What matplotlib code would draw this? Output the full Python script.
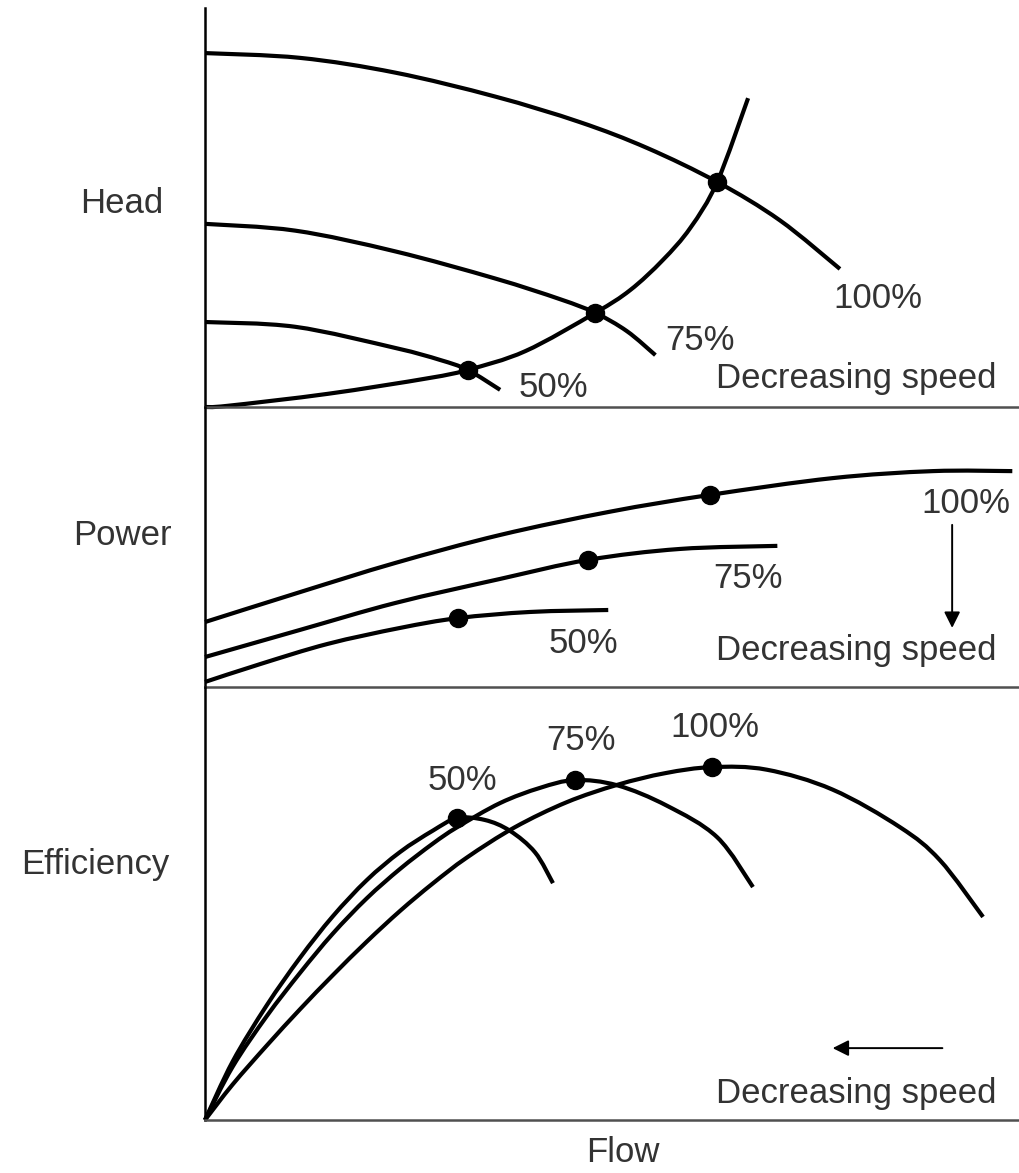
import numpy as np
import matplotlib
matplotlib.use("Agg")
import matplotlib.pyplot as plt
from matplotlib.path import Path
from matplotlib.patches import PathPatch

plt.rcParams['font.family'] = ['Liberation Sans', 'DejaVu Sans']

# --- Head vs flow (flow and head in % of axis) ---
head100_q = [0, 11.7, 23.4, 35.7, 46.1, 54.4, 63.0, 70.7, 78.1]
head100_h = [88.7, 87.5, 83.8, 77.8, 71.4, 64.9, 56.4, 46.8, 34.6]
head75_q = [0, 11.1, 23.4, 35.7, 43.7, 48.0, 51.9, 55.4]
head75_h = [45.9, 44.2, 39.0, 32.2, 27.0, 23.6, 19.0, 13.0]
head50_q = [0, 11.1, 23.4, 28.9, 32.3, 36.3]
head50_h = [21.3, 20.1, 14.8, 11.8, 9.3, 4.3]
system_q = [0, 2.8, 15.1, 27.4, 32.3, 39.4, 48.0, 52.3, 56.3, 59.7, 63.0, 66.8]
system_h = [0, 0.3, 3.3, 7.2, 9.3, 14.0, 23.6, 29.3, 36.8, 44.9, 56.4, 77.4]
head_op_q = [63.0, 48.0, 32.3]
head_op_h = [56.4, 23.6, 9.3]

# --- Power vs flow ---
pow100_q = [0, 11.7, 23.4, 36.3, 49.8, 62.1, 77.2, 89.5, 99.3]
pow100_p = [23.2, 33.9, 44.3, 54.3, 62.6, 68.6, 74.6, 77.1, 77.1]
pow75_q = [0, 11.7, 23.4, 36.3, 47.1, 58.4, 70.4]
pow75_p = [10.7, 20.4, 30.0, 38.6, 45.4, 49.3, 50.4]
pow50_q = [0, 6.8, 15.1, 24.0, 31.1, 40.0, 49.6]
pow50_p = [1.8, 8.2, 15.4, 21.1, 24.6, 26.8, 27.5]
pow_op_q = [62.1, 47.1, 31.1]
pow_op_p = [68.6, 45.4, 24.6]

# --- Efficiency vs flow ---
eff50_q = [0, 3.4, 7.6, 11.7, 15.7, 19.9, 24.0, 28.0, 31.0, 34.4, 37.5, 40.6, 42.8]
eff50_e = [0, 13.5, 26.5, 37.5, 47.0, 55.4, 61.9, 66.8, 69.7, 69.3, 66.8, 61.8, 54.7]
eff75_q = [0, 3.4, 7.6, 11.7, 15.7, 19.9, 24.0, 28.0, 31.0, 36.3, 41.2, 45.5, 50.7,
           56.8, 63.0, 67.4]
eff75_e = [0, 12.3, 24.0, 34.0, 43.0, 51.2, 58.0, 63.8, 67.6, 73.2, 76.7, 78.5, 77.3,
           72.6, 65.3, 53.8]
eff100_q = [0, 3.4, 7.6, 11.7, 15.7, 19.9, 24.0, 28.0, 32.2, 38.1, 44.5, 50.7, 56.6,
            62.4, 69.1, 77.2, 85.5, 90.4, 95.7]
eff100_e = [0, 8.2, 17.2, 25.6, 33.4, 41.2, 48.3, 54.6, 60.6, 67.6, 73.4, 77.4, 80.1,
            81.5, 80.9, 76.3, 67.6, 60.0, 46.9]
eff_op_q = [31.0, 45.5, 62.4]
eff_op_e = [69.7, 78.5, 81.5]

speed_labels = ['100%', '75%', '50%']

W, H = 1020, 1173
fig = plt.figure(figsize=(W / 100, H / 100), dpi=100)
fig.patch.set_facecolor('white')

left = 205 / W
width = (1018 - 205) / W


def make_axes(top_px, bottom_px):
    ax = fig.add_axes([left, 1 - bottom_px / H, width, (bottom_px - top_px) / H])
    ax.set_xlim(0, 100)
    ax.set_ylim(0, 100)
    ax.set_xticks([])
    ax.set_yticks([])
    ax.spines['top'].set_visible(False)
    ax.spines['right'].set_visible(False)
    ax.spines['left'].set_color('black')
    ax.spines['left'].set_linewidth(1.8)
    ax.spines['bottom'].set_color('#505050')
    ax.spines['bottom'].set_linewidth(1.8)
    ax.patch.set_alpha(0)
    return ax


ax_h = make_axes(8, 407)
ax_p = make_axes(407, 687)
ax_e = make_axes(687, 1120)

lw = 3.0
ms = 13
txt = dict(fontsize=25, color='#333333', ha='center', va='baseline')


def curve(ax, q, y):
    # smooth bezier path through the read points (catmull-rom tangents)
    pts = np.column_stack([q, y]).astype(float)
    ext = np.vstack([pts[0], pts, pts[-1]])
    verts = [tuple(pts[0])]
    codes = [Path.MOVETO]
    for i in range(len(pts) - 1):
        p0, p1, p2, p3 = ext[i], ext[i + 1], ext[i + 2], ext[i + 3]
        c1 = p1 + (p2 - p0) / 6
        c2 = p2 - (p3 - p1) / 6
        verts += [tuple(c1), tuple(c2), tuple(p2)]
        codes += [Path.CURVE4] * 3
    patch = PathPatch(Path(verts, codes), facecolor='none', edgecolor='black',
                      lw=lw, capstyle='butt', joinstyle='round', clip_on=False)
    ax.add_patch(patch)


# head panel
for q, h in [(head100_q, head100_h), (head75_q, head75_h), (head50_q, head50_h),
             (system_q, system_h)]:
    curve(ax_h, q, h)
ax_h.plot(head_op_q, head_op_h, 'o', color='black', ms=ms, clip_on=False)
ax_h.text(82.8, 24.8, speed_labels[0], **txt)
ax_h.text(60.9, 14.3, speed_labels[1], **txt)
ax_h.text(42.9, 2.5, speed_labels[2], **txt)
ax_h.text(80.1, 4.8, 'Decreasing speed', **txt)

# power panel
for q, p in [(pow100_q, pow100_p), (pow75_q, pow75_p), (pow50_q, pow50_p)]:
    curve(ax_p, q, p)
ax_p.plot(pow_op_q, pow_op_p, 'o', color='black', ms=ms, clip_on=False)
ax_p.text(93.6, 62.1, speed_labels[0], **txt)
ax_p.text(66.8, 35.4, speed_labels[1], **txt)
ax_p.text(46.5, 12.1, speed_labels[2], **txt)
ax_p.text(80.1, 9.6, 'Decreasing speed', **txt)
ax_p.annotate('', xy=(91.9, 21.1), xytext=(91.9, 57.9),
              arrowprops=dict(arrowstyle='-|>', color='black', lw=1.4,
                              mutation_scale=24, shrinkA=0, shrinkB=0))

# efficiency panel
for q, e in [(eff100_q, eff100_e), (eff75_q, eff75_e), (eff50_q, eff50_e)]:
    curve(ax_e, q, e)
ax_e.plot(eff_op_q, eff_op_e, 'o', color='black', ms=ms, clip_on=False)
ax_e.text(62.7, 88.5, speed_labels[0], **txt)
ax_e.text(46.2, 85.5, speed_labels[1], **txt)
ax_e.text(31.6, 76.2, speed_labels[2], **txt)
ax_e.text(80.1, 3.9, 'Decreasing speed', **txt)
ax_e.annotate('', xy=(77.2, 16.6), xytext=(90.7, 16.6),
              arrowprops=dict(arrowstyle='-|>', color='black', lw=1.4,
                              mutation_scale=24, shrinkA=0, shrinkB=0))

# panel names
fig.text(122 / W, 1 - 213 / H, 'Head', **txt)
fig.text(122 / W, 1 - 545 / H, 'Power', **txt)
fig.text(95 / W, 1 - 874 / H, 'Efficiency', **txt)
fig.text(623 / W, 1 - 1162 / H, 'Flow', **txt)

fig.savefig('out.png', dpi=100, facecolor='white')
